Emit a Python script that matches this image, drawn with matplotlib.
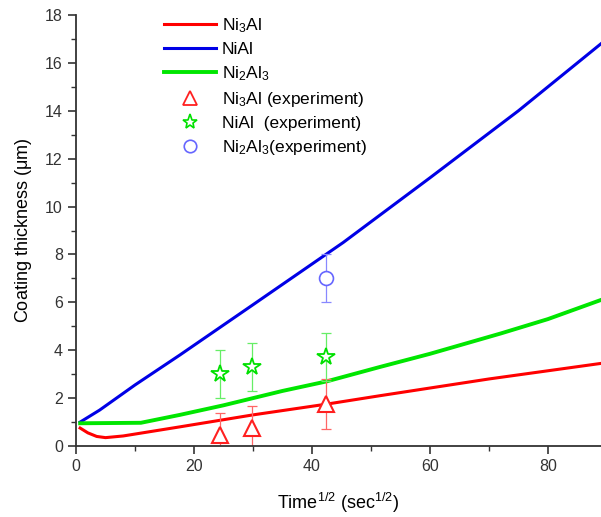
import matplotlib
matplotlib.use("Agg")
import matplotlib.pyplot as plt
from matplotlib.lines import Line2D
from matplotlib.ticker import MultipleLocator

plt.rcParams['font.family'] = ['Liberation Sans', 'DejaVu Sans']
plt.rcParams['mathtext.default'] = 'regular'

# Model curves
ni3al_x = [0.7, 2.0, 3.5, 5.0, 8.0, 17.6, 30.0, 42.5, 51.5, 70.0, 89.0]
ni3al_y = [0.75, 0.55, 0.40, 0.35, 0.42, 0.80, 1.30, 1.75, 2.10, 2.80, 3.45]

nial_x = [0.7, 4.0, 10.0, 17.6, 30.0, 45.3, 60.0, 75.0, 89.0]
nial_y = [1.0, 1.5, 2.55, 3.8, 5.9, 8.5, 11.2, 14.0, 16.8]

ni2al3_x = [0.7, 11.0, 17.6, 25.0, 35.0, 42.5, 51.5, 60.0, 72.0, 80.0, 89.0]
ni2al3_y = [0.95, 0.97, 1.30, 1.70, 2.30, 2.70, 3.30, 3.85, 4.70, 5.30, 6.10]

# Experiments
exp_x_ni3al = [24.4, 29.9, 42.3]
exp_y_ni3al = [0.46, 0.75, 1.75]
exp_e_ni3al = [0.93, 0.93, 1.04]

exp_x_nial = [24.4, 29.9, 42.3]
exp_y_nial = [3.0, 3.3, 3.7]
exp_e_nial = [1.0, 1.0, 1.0]

exp_x_ni2al3 = [42.3]
exp_y_ni2al3 = [7.0]
exp_e_ni2al3 = [1.0]

labels = ['Ni$_3$Al', 'NiAl', 'Ni$_2$Al$_3$',
          'Ni$_3$Al (experiment)', 'NiAl  (experiment)', 'Ni$_2$Al$_3$(experiment)']

fig = plt.figure(figsize=(6.01, 5.17), dpi=100)
ax = fig.add_axes([0.1265, 0.1373, 1.0 - 0.1265, 0.971 - 0.1373])

red = '#ff0000'
blue = '#0000e6'
green = '#00e600'

ax.plot(ni3al_x, ni3al_y, color=red, lw=2.2)
ax.plot(nial_x, nial_y, color=blue, lw=2.2)
ax.plot(ni2al3_x, ni2al3_y, color=green, lw=2.8)

ax.errorbar(exp_x_ni3al, exp_y_ni3al, yerr=exp_e_ni3al, fmt='none',
            ecolor='#ff6666', elinewidth=0.9, capsize=3.5, capthick=0.9)
ax.errorbar(exp_x_nial, exp_y_nial, yerr=exp_e_nial, fmt='none',
            ecolor='#66ee66', elinewidth=0.9, capsize=3.5, capthick=0.9)
ax.errorbar(exp_x_ni2al3, exp_y_ni2al3, yerr=exp_e_ni2al3, fmt='none',
            ecolor='#8888ff', elinewidth=0.9, capsize=3.5, capthick=0.9)

ax.plot(exp_x_ni3al, exp_y_ni3al, linestyle='none', marker='^', ms=11,
        mfc='white', mec='#ff2020', mew=1.5)
ax.plot(exp_x_nial, exp_y_nial, linestyle='none', marker='*', ms=13,
        mfc='white', mec='#00e000', mew=1.3)
ax.plot(exp_x_ni2al3, exp_y_ni2al3, linestyle='none', marker='o', ms=10,
        mfc='white', mec='#6666ff', mew=1.2)

ax.set_xlim(0, 89)
ax.set_ylim(0, 18)
ax.xaxis.set_major_locator(MultipleLocator(20))
ax.xaxis.set_minor_locator(MultipleLocator(10))
ax.yaxis.set_major_locator(MultipleLocator(2))
ax.yaxis.set_minor_locator(MultipleLocator(1))
ax.spines['top'].set_visible(False)
ax.spines['right'].set_visible(False)
for s in ['left', 'bottom']:
    ax.spines[s].set_linewidth(1.3)
    ax.spines[s].set_color('#333333')
ax.tick_params(which='major', direction='out', length=6, width=1.2,
               labelsize=11.5, colors='#333333', labelcolor='#333333')
ax.tick_params(which='minor', direction='out', length=3.5, width=1.0,
               colors='#333333')

ax.set_xlabel('Time$^{1/2}$ (sec$^{1/2}$)', fontsize=13, labelpad=12)
ax.set_ylabel('Coating thickness ($\\mu$m)', fontsize=13, labelpad=8)

handles = [
    Line2D([], [], color=red, lw=2.2),
    Line2D([], [], color=blue, lw=2.2),
    Line2D([], [], color=green, lw=2.8),
    Line2D([], [], linestyle='none', marker='^', ms=10, mfc='white', mec='#ff2020', mew=1.3),
    Line2D([], [], linestyle='none', marker='*', ms=11, mfc='white', mec='#00e000', mew=1.2),
    Line2D([], [], linestyle='none', marker='o', ms=9, mfc='white', mec='#6666ff', mew=1.2),
]
fig.legend(handles, labels, loc='upper left', bbox_to_anchor=(0.262, 0.982),
           frameon=False, fontsize=12.5, handlelength=3.0, handletextpad=0.3,
           labelspacing=0.4, borderaxespad=0)

fig.savefig('out.png', dpi=100)
